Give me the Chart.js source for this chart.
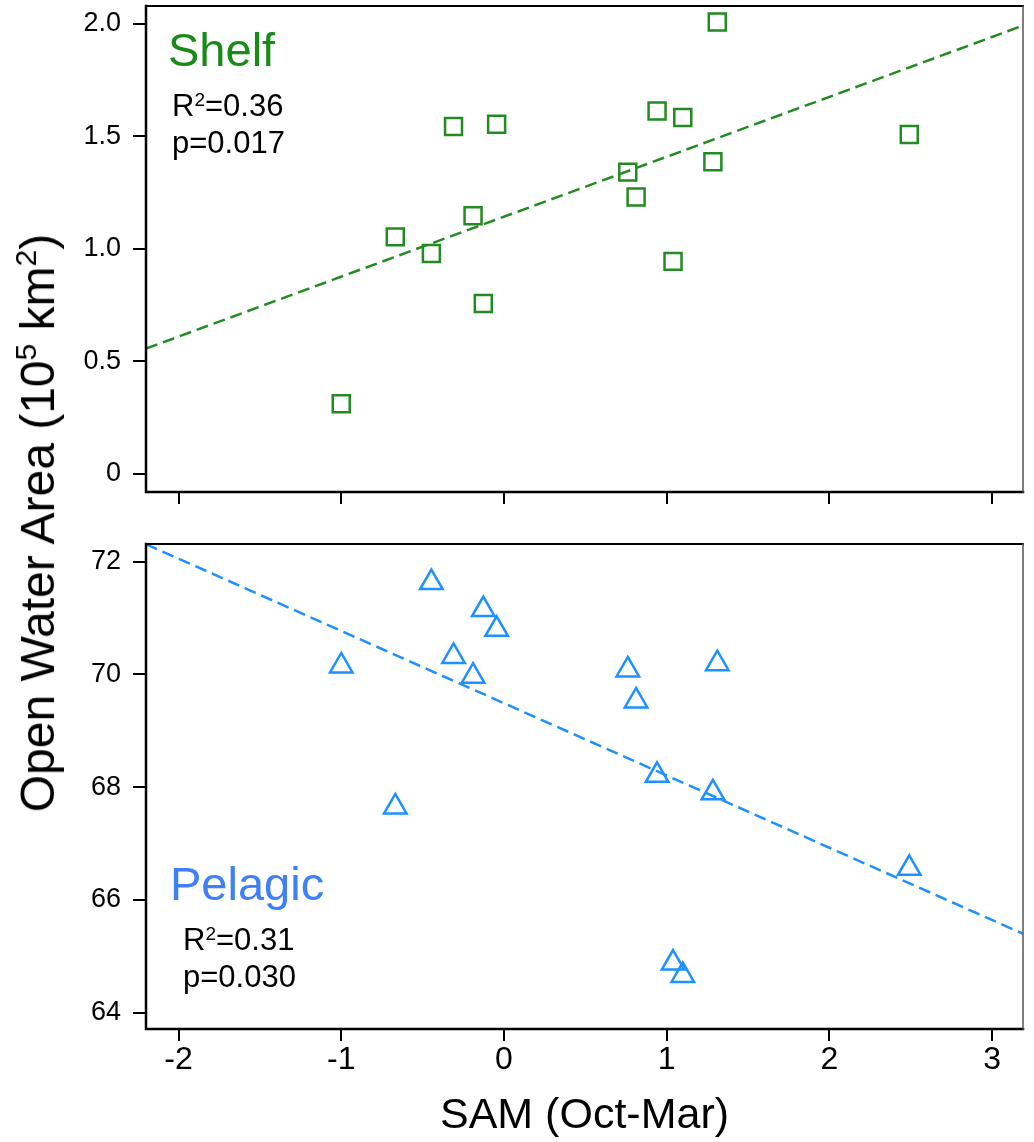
<!DOCTYPE html>
<html lang="en">
<head>
    <meta charset="UTF-8">
    <title>Open Water Area vs SAM</title>
    <script src="https://cdn.jsdelivr.net/npm/chart.js"></script>
    <style>
        body {
            margin: 0;
            background: #fff;
        }
        #wrap {
            position: relative;
            width: 1034px;
            height: 1142px;
            font-family: 'Liberation Sans', Arial, sans-serif;
        }
        #topBox, #bottomBox {
            position: absolute;
            left: 0;
            width: 1034px;
        }
        #topBox { top: 0; height: 520px; }
        #bottomBox { top: 520px; height: 622px; }
        #yTitle {
            position: absolute;
            left: 38px;
            top: 523px;
            transform: translate(-50%, -50%) rotate(-90deg);
            white-space: nowrap;
            font-size: 48px;
            line-height: 1;
            color: #000;
        }
        #yTitle sup {
            font-size: 30px;
            vertical-align: 18px;
            line-height: 0;
        }
    </style>
</head>
<body>

<div id="wrap">
    <div id="topBox"><canvas id="shelfChart" width="1034" height="520"></canvas></div>
    <div id="bottomBox"><canvas id="pelagicChart" width="1034" height="622"></canvas></div>
    <div id="yTitle">Open Water Area (10<sup>5</sup> km<sup>2</sup>)</div>
</div>

<script>
    // SAM index (Oct-Mar), one value per year, same order in both panels
    const samX = [-1.00, -0.668, -0.446, -0.310, -0.190, -0.127, -0.045, 0.761, 0.812, 0.941, 1.039, 1.099, 1.284, 1.311, 2.491];

    // open water area, shelf (10^5 km2)
    const shelfArea = [0.311, 1.053, 0.979, 1.544, 1.147, 0.757, 1.554, 1.341, 1.230, 1.613, 0.944, 1.584, 1.387, 2.009, 1.508];

    // open water area, pelagic
    const pelagicArea = [70.15, 67.65, 71.63, 70.32, 69.97, 71.15, 70.80, 70.08, 69.53, 68.21, 64.88, 64.66, 67.90, 70.19, 66.56];

    // regression lines, at the ends of the x range
    const fitX = [-2.2, 3.19];
    const shelfFit = [0.556, 1.993];
    const pelagicFit = [72.31, 65.40];

    const shelfStats = ['0.36', '0.017'];
    const pelagicStats = ['0.31', '0.030'];

    const xTicks = [-2, -1, 0, 1, 2, 3];

    Chart.defaults.font.family = "'Liberation Sans', Arial, sans-serif";
    Chart.defaults.color = '#000';

    // box around the plot area
    const frame = {
        id: 'frame',
        afterDraw(chart) {
            const a = chart.chartArea;
            const c = chart.ctx;
            c.save();
            c.lineCap = 'square';
            c.strokeStyle = '#000';
            c.lineWidth = 2.5;
            c.beginPath();
            c.moveTo(a.left, a.top);
            c.lineTo(a.left, a.bottom);
            c.lineTo(a.right, a.bottom);
            c.stroke();
            c.lineWidth = 2;
            c.beginPath();
            c.moveTo(a.left, a.top);
            c.lineTo(a.right, a.top);
            c.stroke();
            c.strokeStyle = '#555';
            c.lineWidth = 1.5;
            c.beginPath();
            c.moveTo(a.right, a.top);
            c.lineTo(a.right, a.bottom);
            c.stroke();
            c.restore();
        }
    };

    // panel name plus R^2 and p
    const panelText = {
        id: 'panelText',
        afterDraw(chart, args, o) {
            const a = chart.chartArea;
            const c = chart.ctx;
            c.save();
            c.textBaseline = 'alphabetic';
            c.textAlign = 'left';
            c.fillStyle = o.color;
            c.font = "47px 'Liberation Sans', Arial, sans-serif";
            c.fillText(o.name, a.left + o.nameX, a.top + o.nameY);

            c.fillStyle = '#000';
            const big = "31px 'Liberation Sans', Arial, sans-serif";
            const small = "19px 'Liberation Sans', Arial, sans-serif";
            let x = a.left + o.statX;
            let y = a.top + o.statY;
            c.font = big;
            c.fillText('R', x, y);
            x += c.measureText('R').width;
            c.font = small;
            c.fillText('2', x, y - 10);
            x += c.measureText('2').width;
            c.font = big;
            c.fillText('=' + o.stats[0], x, y);
            c.fillText('p=' + o.stats[1], a.left + o.statX, y + 37);
            c.restore();
        }
    };

    function xAxis(showLabels, h) {
        return {
            type: 'linear',
            min: fitX[0],
            max: fitX[1],
            afterBuildTicks: s => { s.ticks = xTicks.map(v => ({ value: v })); },
            ticks: {
                display: showLabels,
                font: { size: 32 },
                color: '#000',
                padding: 0,
                callback: v => String(v)
            },
            grid: {
                drawOnChartArea: false,
                drawTicks: true,
                tickLength: 12,
                color: '#000',
                lineWidth: 2
            },
            border: { display: false },
            title: {
                display: showLabels,
                text: 'SAM (Oct-Mar)',
                font: { size: 43 },
                color: '#000',
                padding: { top: 0, bottom: 0 }
            },
            afterFit: s => {
                s.height = h;
                s.paddingLeft = 0;
                s.paddingRight = 0;
            }
        };
    }

    function yAxis(min, max, step, fmt) {
        return {
            type: 'linear',
            min: min,
            max: max,
            ticks: {
                stepSize: step,
                includeBounds: false,
                font: { size: 27 },
                color: '#000',
                padding: 12,
                callback: fmt
            },
            grid: {
                drawOnChartArea: false,
                drawTicks: true,
                tickLength: 13,
                color: '#000',
                lineWidth: 2
            },
            border: { display: false },
            afterFit: s => {
                s.width = 146;
                s.paddingTop = 0;
                s.paddingBottom = 0;
            }
        };
    }

    function makeChart(id, ys, fit, colour, style, radius, yScale, xScale, padTop, text) {
        return new Chart(document.getElementById(id), {
            data: {
                datasets: [
                    {
                        type: 'line',
                        data: fitX.map((x, i) => ({ x: x, y: fit[i] })),
                        borderColor: colour,
                        borderWidth: 2.5,
                        borderDash: [12, 6],
                        pointRadius: 0,
                        fill: false
                    },
                    {
                        type: 'scatter',
                        data: samX.map((x, i) => ({ x: x, y: ys[i] })),
                        pointStyle: style,
                        pointRadius: radius,
                        borderColor: colour,
                        borderWidth: 2.5,
                        backgroundColor: 'rgba(0,0,0,0)'
                    }
                ]
            },
            options: {
                responsive: false,
                animation: false,
                events: [],
                layout: {
                    autoPadding: false,
                    padding: { top: padTop, right: 11, left: 0, bottom: 0 }
                },
                scales: { x: xScale, y: yScale },
                plugins: {
                    legend: { display: false },
                    tooltip: { enabled: false },
                    panelText: text
                }
            },
            plugins: [frame, panelText]
        });
    }

    makeChart('shelfChart', shelfArea, shelfFit, '#228B22', 'rect', 12,
        yAxis(-0.082, 2.08, 0.5, v => v === 0 ? '0' : v.toFixed(1)),
        xAxis(false, 28), 6,
        { name: 'Shelf', color: '#178a17', nameX: 22, nameY: 60, statX: 26, statY: 110, stats: shelfStats });

    makeChart('pelagicChart', pelagicArea, pelagicFit, '#1E90FF', 'triangle', 13,
        yAxis(63.71, 72.314, 2, v => String(v)),
        xAxis(true, 113), 24,
        { name: 'Pelagic', color: '#3f7ff7', nameX: 24, nameY: 356, statX: 37, statY: 406, stats: pelagicStats });
</script>

</body>
</html>
